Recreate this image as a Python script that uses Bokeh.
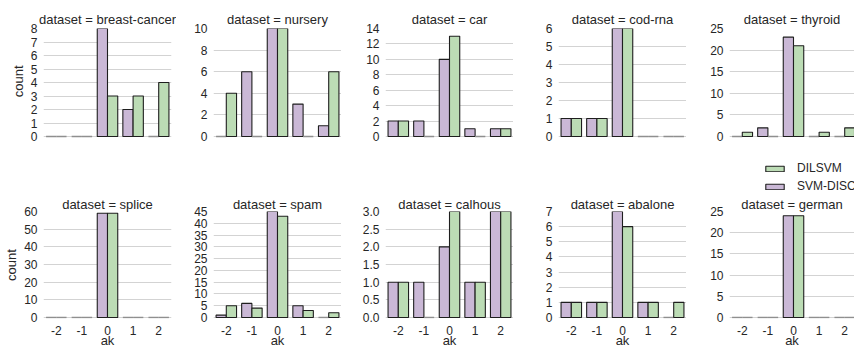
from bokeh.plotting import figure
from bokeh.layouts import row, column
from bokeh.models import (Range1d, FixedTicker, ColumnDataSource, Legend, LegendItem,
                          PrintfTickFormatter, Title)
from bokeh.embed import file_html
from bokeh.resources import INLINE

# ak levels on the x axis
ak_levels = ["-2", "-1", "0", "1", "2"]

datasets = ["breast-cancer", "nursery", "car", "cod-rna", "thyroid",
            "splice", "spam", "calhous", "abalone", "german"]

# counts per ak level, one list per dataset
svm_disc = [
    [0, 0, 8, 2, 0],
    [0, 6, 10, 3, 1],
    [2, 2, 10, 1, 1],
    [1, 1, 6, 0, 0],
    [0, 2, 23, 0, 0],
    [0, 0, 59, 0, 0],
    [1, 6, 45, 5, 0],
    [1, 1, 2, 1, 3],
    [1, 1, 7, 1, 0],
    [0, 0, 24, 0, 0],
]
dilsvm = [
    [0, 0, 3, 3, 4],
    [4, 0, 10, 0, 6],
    [2, 0, 13, 0, 1],
    [1, 1, 6, 0, 0],
    [1, 0, 21, 1, 2],
    [0, 0, 59, 0, 0],
    [5, 4, 43, 3, 2],
    [1, 0, 3, 1, 3],
    [1, 1, 6, 1, 1],
    [0, 0, 24, 0, 0],
]

# y axis extent and tick step for each panel
y_top = [8, 10, 14, 6, 25, 60, 45, 3.0, 7, 25]
y_step = [1, 2, 2, 1, 5, 10, 5, 0.5, 1, 5]

PURPLE = "#cab8d6"
GREEN = "#bcdcb5"
EDGE = "#1e1e1e"
ZERO_EDGE = "#8f8f8f"
TEXT = "#262626"
FONT = "Liberation Sans"

# per-column figure geometry (left border, total width)
col_left = [43, 37, 44, 45, 43]
col_width = [176, 165, 172, 173, 168]
FRAME_W = 128
BAR_H = 108                 # pixels between 0 and the top tick
row_top = [28, 18]
row_frame = [165, 109]      # upper frames run on below zero to hold the legend
row_bottom = [0, 30]
title_standoff = [3, 0]

figs = []
renderers = {}
for k, name in enumerate(datasets):
    r, c = divmod(k, 5)
    top = y_top[k]
    frame_w = col_width[c] - col_left[c]
    if c == 0:
        frame_w = FRAME_W
    x_end = -0.5 + 5 * frame_w / FRAME_W
    y_start = -top * (row_frame[r] - BAR_H) / BAR_H
    height = row_top[r] + row_frame[r] + row_bottom[r]
    p = figure(width=col_width[c], height=height, output_backend="svg",
               toolbar_location=None,
               x_range=Range1d(-0.5, x_end),
               y_range=Range1d(y_start, top),
               min_border_left=col_left[c],
               min_border_right=col_width[c] - col_left[c] - frame_w,
               min_border_top=row_top[r], min_border_bottom=row_bottom[r])
    p.outline_line_color = None
    p.background_fill_color = "white"
    p.border_fill_color = "white"
    p.xgrid.visible = False
    p.ygrid.grid_line_color = "#d3d3d3"
    p.ygrid.grid_line_width = 1

    p.title.text = f"dataset = {name}"
    p.title.align = "center"
    p.title.text_font = FONT
    p.title.text_font_size = "13px"
    p.title.text_font_style = "normal"
    p.title.text_color = TEXT
    p.title.standoff = title_standoff[r]

    n_ticks = int(round(top / y_step[k])) + 1
    ticks = [i * y_step[k] for i in range(n_ticks)]
    p.yaxis.ticker = FixedTicker(ticks=ticks)
    if y_step[k] < 1:
        p.yaxis.formatter = PrintfTickFormatter(format="%.1f")
    p.yaxis.axis_line_color = None
    p.yaxis.major_tick_line_color = None
    p.yaxis.minor_tick_line_color = None
    p.yaxis.major_tick_out = 0
    p.yaxis.major_tick_in = 0
    p.yaxis.minor_tick_out = 0
    p.yaxis.major_label_standoff = 6
    p.yaxis.major_label_text_font = FONT
    p.yaxis.major_label_text_font_size = "12px"
    p.yaxis.major_label_text_color = TEXT
    if c == 0 and r == 1:
        p.yaxis.axis_label = "count"
        p.yaxis.axis_label_text_font = FONT
        p.yaxis.axis_label_text_font_size = "13px"
        p.yaxis.axis_label_text_font_style = "normal"
        p.yaxis.axis_label_text_color = TEXT
        p.yaxis.axis_label_standoff = 2
    elif c == 0:
        # the upper frame is taller than its bars, so the label is hung
        # from the top of the frame rather than centred on it
        p.add_layout(Title(text="count", align="right", offset=37, standoff=3,
                           text_font=FONT, text_font_size="13px",
                           text_font_style="normal", text_color=TEXT), "left")

    p.xaxis.ticker = FixedTicker(ticks=list(range(len(ak_levels))))
    p.xaxis.major_label_overrides = {i: lab for i, lab in enumerate(ak_levels)}
    p.xaxis.axis_line_color = None
    p.xaxis.major_tick_line_color = None
    p.xaxis.minor_tick_line_color = None
    p.xaxis.major_tick_out = 0
    p.xaxis.major_tick_in = 0
    p.xaxis.minor_tick_out = 0
    p.xaxis.major_label_standoff = 7
    p.xaxis.major_label_text_font = FONT
    p.xaxis.major_label_text_font_size = "12px"
    p.xaxis.major_label_text_color = TEXT
    if r == 1:
        p.xaxis.axis_label = "ak"
        p.xaxis.axis_label_text_font = FONT
        p.xaxis.axis_label_text_font_size = "13px"
        p.xaxis.axis_label_text_font_style = "normal"
        p.xaxis.axis_label_text_color = TEXT
        p.xaxis.axis_label_standoff = -5
    else:
        p.xaxis.visible = False

    for vals, offset, color, key in ((svm_disc[k], -0.2, PURPLE, "svm"),
                                     (dilsvm[k], 0.2, GREEN, "dil")):
        src = ColumnDataSource(dict(
            x=[i + offset for i in range(len(ak_levels))],
            top=vals,
            lc=[ZERO_EDGE if v == 0 else EDGE for v in vals],
            lw=[1.5 if v == 0 else 1.1 for v in vals],
        ))
        rr = p.vbar(x="x", top="top", bottom=0, width=0.4, source=src,
                    fill_color=color, line_color="lc", line_width="lw")
        renderers[(k, key)] = rr
    figs.append(p)

# legend sits in the lower part of the upper right panel
lp = figs[4]
legend = Legend(items=[
    LegendItem(label="DILSVM", renderers=[renderers[(4, "dil")]], index=2),
    LegendItem(label="SVM-DISC", renderers=[renderers[(4, "svm")]], index=2),
], location=(34, 0))
legend.padding = 0
legend.margin = 0
legend.spacing = 4
legend.glyph_width = 23
legend.glyph_height = 7
legend.label_height = 7
legend.label_standoff = 11
legend.label_text_font = FONT
legend.label_text_font_size = "12px"
legend.label_text_color = TEXT
legend.label_text_baseline = "middle"
legend.border_line_color = None
legend.background_fill_alpha = 0
lp.add_layout(legend)

layout = column(row(*figs[:5]), row(*figs[5:]))
open("out.html", "w").write(file_html(layout, INLINE))
